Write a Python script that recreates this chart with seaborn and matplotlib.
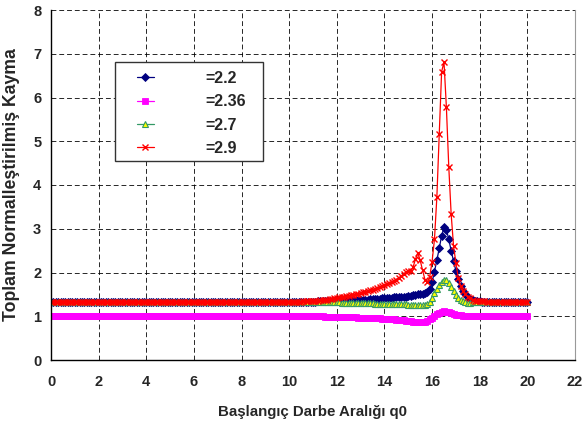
import numpy as np
import pandas as pd
import matplotlib
matplotlib.use("Agg")
import matplotlib.pyplot as plt
from matplotlib.patches import Rectangle
import seaborn as sns

# Initial pulse spacing q0, sampled every 0.1 from 0 to 20
q0 = np.round(np.arange(201) * 0.1, 1)

series_labels = ["=2.2", "=2.36", "=2.7", "=2.9"]

# Total normalised shift for each case (flat stretch 0.0-9.9, then 10.0-20.0)
shift_22 = [1.33] * 100 + [
    1.33, 1.33, 1.33, 1.33, 1.33, 1.33, 1.33, 1.33, 1.33, 1.33,
    1.33, 1.33, 1.34, 1.34, 1.34, 1.34, 1.34, 1.34, 1.35, 1.35,
    1.35, 1.35, 1.35, 1.36, 1.36, 1.36, 1.36, 1.37, 1.37, 1.37,
    1.37, 1.38, 1.38, 1.38, 1.39, 1.39, 1.39, 1.40, 1.40, 1.41,
    1.41, 1.41, 1.42, 1.42, 1.43, 1.43, 1.44, 1.44, 1.45, 1.45,
    1.46, 1.47, 1.48, 1.49, 1.50, 1.51, 1.52, 1.53, 1.56, 1.62,
    1.78, 2.02, 2.28, 2.55, 2.84, 3.03, 2.98, 2.76, 2.50, 2.26,
    2.04, 1.86, 1.70, 1.58, 1.50, 1.44, 1.40, 1.37, 1.35, 1.34,
    1.34, 1.33, 1.33, 1.33, 1.33, 1.33, 1.33, 1.33, 1.33, 1.33,
    1.33, 1.33, 1.33, 1.33, 1.33, 1.33, 1.33, 1.33, 1.33, 1.33,
    1.33,
]

shift_236 = [1.00] * 100 + [
    1.00, 1.00, 1.00, 1.00, 1.00, 1.00, 1.00, 1.00, 1.00, 1.00,
    1.00, 1.00, 1.00, 1.00, 1.00, 0.99, 0.99, 0.99, 0.99, 0.99,
    0.99, 0.99, 0.99, 0.99, 0.98, 0.98, 0.98, 0.98, 0.98, 0.97,
    0.97, 0.97, 0.97, 0.96, 0.96, 0.96, 0.95, 0.95, 0.95, 0.94,
    0.94, 0.94, 0.93, 0.93, 0.93, 0.92, 0.92, 0.91, 0.91, 0.90,
    0.90, 0.89, 0.88, 0.87, 0.87, 0.86, 0.87, 0.88, 0.90, 0.93,
    0.97, 1.01, 1.05, 1.08, 1.10, 1.11, 1.10, 1.09, 1.07, 1.06,
    1.04, 1.03, 1.02, 1.01, 1.01, 1.00, 1.00, 1.00, 1.00, 1.00,
    1.00, 1.00, 1.00, 1.00, 1.00, 1.00, 1.00, 1.00, 1.00, 1.00,
    1.00, 1.00, 1.00, 1.00, 1.00, 1.00, 1.00, 1.00, 1.00, 1.00,
    1.00,
]

shift_27 = [1.33] * 100 + [
    1.33, 1.33, 1.33, 1.33, 1.33, 1.33, 1.33, 1.33, 1.33, 1.33,
    1.33, 1.33, 1.33, 1.33, 1.32, 1.32, 1.32, 1.32, 1.32, 1.32,
    1.32, 1.32, 1.31, 1.31, 1.31, 1.31, 1.31, 1.31, 1.31, 1.31,
    1.30, 1.30, 1.30, 1.30, 1.30, 1.30, 1.29, 1.29, 1.29, 1.29,
    1.29, 1.29, 1.28, 1.28, 1.28, 1.28, 1.27, 1.27, 1.27, 1.27,
    1.26, 1.26, 1.26, 1.25, 1.25, 1.25, 1.25, 1.25, 1.27, 1.32,
    1.42, 1.53, 1.63, 1.72, 1.78, 1.82, 1.82, 1.77, 1.68, 1.57,
    1.48, 1.41, 1.37, 1.34, 1.32, 1.31, 1.31, 1.32, 1.32, 1.32,
    1.32, 1.33, 1.33, 1.33, 1.33, 1.33, 1.33, 1.33, 1.33, 1.33,
    1.33, 1.33, 1.33, 1.33, 1.33, 1.33, 1.33, 1.33, 1.33, 1.33,
    1.33,
]

shift_29 = [1.33] * 100 + [
    1.33, 1.33, 1.33, 1.33, 1.33, 1.33, 1.34, 1.34, 1.34, 1.35,
    1.35, 1.36, 1.36, 1.37, 1.37, 1.38, 1.38, 1.39, 1.40, 1.41,
    1.42, 1.43, 1.44, 1.45, 1.46, 1.47, 1.48, 1.49, 1.50, 1.52,
    1.53, 1.55, 1.56, 1.58, 1.59, 1.61, 1.63, 1.65, 1.67, 1.69,
    1.71, 1.73, 1.75, 1.78, 1.81, 1.84, 1.88, 1.92, 1.97, 2.01,
    2.03, 2.04, 2.12, 2.30, 2.45, 2.28, 2.05, 1.84, 1.78, 1.90,
    2.25, 2.76, 3.72, 5.17, 6.59, 6.81, 5.78, 4.42, 3.34, 2.61,
    2.22, 1.87, 1.70, 1.58, 1.50, 1.45, 1.41, 1.38, 1.36, 1.35,
    1.34, 1.34, 1.34, 1.33, 1.33, 1.33, 1.33, 1.33, 1.33, 1.33,
    1.33, 1.33, 1.33, 1.33, 1.33, 1.33, 1.33, 1.33, 1.33, 1.33,
    1.33,
]

x_ticks = [0, 2, 4, 6, 8, 10, 12, 14, 16, 18, 20, 22]
y_ticks = [0, 1, 2, 3, 4, 5, 6, 7, 8]

sns.set_style("white")
plt.rcParams["font.family"] = ["Liberation Sans", "DejaVu Sans"]
plt.rcParams["font.weight"] = "bold"

W, H = 584, 428
fig = plt.figure(figsize=(W / 100, H / 100), dpi=100)
ax = fig.add_axes([51 / W, 1 - 360 / H, 524 / W, 350 / H])

df = pd.DataFrame({"q0": q0, "s22": shift_22, "s236": shift_236,
                   "s27": shift_27, "s29": shift_29})

# line colour, marker, marker size, face colour, edge colour, edge width
styles = [
    ("s22", series_labels[0], "#000080", "D", 3.6, "#000080", "#000080", 0.6),
    ("s236", series_labels[1], "#FF00FF", "s", 4.2, "#FF00FF", "#FF00FF", 0.6),
    ("s27", series_labels[2], "#339966", "^", 4.0, "#FFFF00", "#339966", 0.8),
    ("s29", series_labels[3], "#FF0000", "x", 4.3, "#FF0000", "#FF0000", 1.0),
]

for col, lab, c, mk, ms, mfc, mec, mew in styles:
    sns.lineplot(data=df, x="q0", y=col, ax=ax, label=lab, color=c,
                 linewidth=0.9, errorbar=None, estimator=None, sort=False)
    line = ax.get_lines()[-1]
    line.set_linestyle("-")
    line.set_marker(mk)
    line.set_markersize(ms)
    line.set_markerfacecolor(mfc)
    line.set_markeredgecolor(mec)
    line.set_markeredgewidth(mew)

ax.set_xlim(0, 22)
ax.set_ylim(0, 8)
ax.set_xticks(x_ticks)
ax.set_yticks(y_ticks)
ax.tick_params(axis="both", direction="out", length=4, width=0.8,
               color="black", labelsize=10.5)
ax.tick_params(axis="x", pad=7)
ax.tick_params(axis="y", pad=3)
for t in ax.get_xticklabels() + ax.get_yticklabels():
    t.set_fontweight("bold")

ax.grid(True, color="black", linestyle=(0, (5, 3)), linewidth=0.7, alpha=0.85)
ax.set_axisbelow(True)

for side in ["left", "bottom"]:
    ax.spines[side].set_visible(True)
    ax.spines[side].set_color("black")
    ax.spines[side].set_linewidth(1.0)
ax.spines["top"].set_visible(False)
ax.spines["right"].set_visible(True)
ax.spines["right"].set_color("#999999")
ax.spines["right"].set_linewidth(0.8)

ax.set_xlabel("Başlangıç Darbe Aralığı q0", fontsize=10.8, fontweight="bold")
ax.set_ylabel("Toplam Normalleştirilmiş Kayma", fontsize=12.7, fontweight="bold")
ax.xaxis.set_label_coords(0.5, -0.128)
ax.yaxis.set_label_coords(-0.060, 0.5)

# Legend box drawn separately so the entries can sit indented inside it
ax.add_patch(Rectangle((115 / W, 1 - 161 / H), 148 / W, 99 / H,
                       transform=fig.transFigure, facecolor="white",
                       edgecolor="#333333", linewidth=1.0, zorder=4,
                       clip_on=False))

handles, labels = ax.get_legend_handles_labels()
leg = ax.legend(handles, labels, loc="upper left",
                bbox_to_anchor=(137 / W, 1 - 71 / H),
                bbox_transform=fig.transFigure, frameon=False,
                borderpad=0, handlelength=1.06, handletextpad=3.2,
                labelspacing=0.52, borderaxespad=0, numpoints=1,
                prop={"size": 11.5, "weight": "bold"})
leg.set_zorder(6)

fig.savefig("out.png", dpi=100)
